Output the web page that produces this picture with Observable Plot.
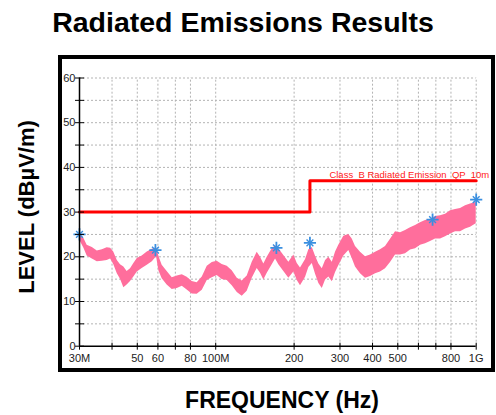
<!DOCTYPE html>
<html>
<head>
<meta charset="utf-8">
<script src="https://cdn.jsdelivr.net/npm/d3@7"></script>
<script src="https://cdn.jsdelivr.net/npm/@observablehq/plot@0.6"></script>
<style>
  html, body { margin: 0; padding: 0; background: #fff; }
  #wrap { position: relative; width: 496px; height: 415px; overflow: hidden; font-family: "Liberation Sans", Arial, sans-serif; }
  .t { position: absolute; font-weight: bold; color: #000; line-height: 1; white-space: nowrap; }
  #frame { position: absolute; left: 58px; top: 55px; width: 437px; height: 317px; border: 4px solid #000; box-sizing: border-box; pointer-events: none; z-index: 2; }
  #chart { position: absolute; left: 0; top: 0; z-index: 1; }
</style>
</head>
<body>
<div id="wrap">
  <div class="t" id="title" style="left:0;width:486px;text-align:center;top:8.3px;font-size:28.5px;">Radiated Emissions Results</div>
  <div id="chart"></div>
  <div id="frame"></div>
  <div class="t" id="xlab" style="left:132px;width:300px;text-align:center;top:389px;font-size:23px;">FREQUENCY (Hz)</div>
  <div class="t" id="ylab" style="left:-123px;width:300px;text-align:center;top:195.5px;height:22px;font-size:22px;transform:rotate(-90deg);transform-origin:150px 11px;">LEVEL (dBµV/m)</div>
</div>
<script>
// ---- data (frequency in MHz, level in dBµV/m) ----
const traceFreq = [30, 31.2, 32.1, 33.6, 35.1, 36.7, 38.3, 39.5, 40.6, 41.9, 43.1, 44.4, 45.7, 47.1, 48.5, 50.0, 52.2, 54.6, 57.1, 59.3,
  60.5, 62.3, 65.1, 68.1, 71.2, 74.4, 77.7, 81.2, 84.9, 88.8, 92.8, 97.0, 101.3, 105.9, 110.7, 115.7, 121.0, 126.4, 132.1, 138.1,
  144.3, 148.6, 153.0, 157.7, 164.8, 169.7, 174.7, 182.6, 190.9, 199.5, 205.6, 211.6, 221.3, 227.8, 234.8, 241.7, 248.9, 256.5, 264.1, 271.9,
  280.2, 288.5, 296.8, 310.3, 324.3, 334.2, 344.1, 359.6, 375.9, 392.9, 410.7, 429.2, 448.6, 468.9, 490.1, 512.3, 535.4, 559.6, 584.9, 611.3,
  638.9, 667.8, 698.0, 729.5, 762.5, 797.0, 833.0, 870.7, 910.0, 951.1, 1000];
const traceLo = [23.8, 21.9, 20.2, 19.5, 18.9, 19.0, 19.2, 19.5, 18.3, 16.2, 15.0, 13.1, 13.7, 14.5, 15.5, 16.6, 17.4, 18.1, 18.9, 20.0,
  16.9, 15.1, 13.7, 12.7, 12.9, 13.4, 12.6, 11.7, 11.6, 12.5, 14.7, 15.3, 15.8, 14.9, 14.7, 13.5, 12.0, 11.2, 12.3, 15.2,
  17.4, 16.3, 14.8, 16.3, 18.2, 19.5, 18.2, 16.7, 15.2, 16.6, 14.7, 13.5, 15.4, 17.6, 18.5, 16.1, 14.0, 12.9, 14.8, 15.5,
  14.4, 16.5, 18.0, 20.2, 21.4, 19.6, 17.7, 16.2, 15.2, 15.6, 16.2, 16.6, 17.3, 18.7, 20.4, 20.4, 20.7, 21.5, 21.8, 22.6,
  22.9, 23.4, 24.0, 24.0, 24.5, 25.1, 25.6, 25.6, 26.2, 26.6, 27.4];
const traceHi = [25.4, 24.1, 22.6, 22.1, 21.3, 21.6, 22.0, 21.9, 21.1, 19.2, 18.2, 17.7, 16.7, 17.3, 18.5, 19.6, 20.2, 21.1, 21.7, 22.0,
  20.1, 18.1, 16.7, 15.3, 15.7, 16.0, 15.4, 14.5, 14.2, 15.5, 17.9, 18.7, 19.0, 18.3, 17.9, 16.9, 15.2, 14.6, 15.7, 18.8,
  21.0, 19.9, 18.4, 19.9, 21.8, 22.5, 21.8, 20.3, 18.8, 20.4, 18.5, 17.5, 19.4, 21.6, 22.1, 20.1, 18.4, 17.3, 19.2, 19.9,
  18.8, 21.1, 22.6, 24.6, 25.0, 24.0, 22.3, 21.0, 20.0, 20.4, 21.0, 21.6, 22.3, 23.9, 25.6, 25.4, 25.9, 26.5, 27.0, 27.6,
  28.1, 28.4, 29.0, 29.2, 29.5, 30.3, 30.6, 30.8, 31.4, 31.8, 32.2];
const limitFreq = [30, 230, 230, 1000];
const limitLevel = [30, 30, 37, 37];
const limitName = "Class  B Radiated Emission  QP  10m";
const peakFreq = [30, 58.7, 171, 230, 680, 1000];
const peakLevel = [25, 21.5, 22, 23.1, 28.3, 32.8];
const xTicks = [30, 40, 50, 60, 70, 80, 100, 200, 300, 400, 500, 600, 700, 800, 1000];
const xLabeled = [30, 50, 60, 80, 100, 200, 300, 400, 500, 800, 1000];
const xTickLabels = ["30M", "50", "60", "80", "100M", "200", "300", "400", "500", "800", "1G"];
const yTicks = [0, 5, 10, 15, 20, 25, 30, 35, 40, 45, 50, 55, 60];
const yLabeled = [0, 10, 20, 30, 40, 50, 60];

const trace = traceFreq.map((f, i) => ({f, lo: traceLo[i], hi: traceHi[i]}));
const limit = limitFreq.map((f, i) => ({f, v: limitLevel[i]}));
const peaks = peakFreq.map((f, i) => ({f, v: peakLevel[i]}));
const xLabelRows = xLabeled.map((f, i) => ({f, label: xTickLabels[i]}));

const grid = {stroke: "#b3b3b3", strokeDasharray: "2,2", strokeWidth: 1, strokeOpacity: 1};

const chart = Plot.plot({
  width: 496,
  height: 415,
  marginLeft: 79,
  marginRight: 20.3,
  marginTop: 77.5,
  marginBottom: 69.3,
  style: {background: "transparent", fontFamily: "'Liberation Sans', Arial, sans-serif", fontSize: "11px", overflow: "visible"},
  x: {type: "log", domain: [30, 1000], label: null},
  y: {domain: [0, 60], label: null},
  marks: [
    Plot.ruleY(yTicks.filter(d => d > 0), grid),
    Plot.ruleX(xTicks.filter(d => d > 30), {...grid, y1: 0, y2: 60}),
    Plot.areaY(trace, {x: "f", y1: "lo", y2: "hi", fill: "#ff6e9c", curve: "linear"}),
    Plot.line(limit, {x: "f", y: "v", stroke: "#ff0000", strokeWidth: 3}),
    Plot.text([limitName], {x: 1000, y: 37, text: d => d, textAnchor: "end", dx: 13, dy: -6, fill: "#ff1a1a", fontSize: 9.5}),
    Plot.dot(peaks, {x: "f", y: "v", symbol: "plus", r: 4, stroke: "#3a8fe0", strokeWidth: 1.8}),
    Plot.dot(peaks, {x: "f", y: "v", symbol: "times", r: 3.2, stroke: "#3a8fe0", strokeWidth: 1.4}),
    Plot.ruleX([30], {y1: 0, y2: 60, stroke: "#000", strokeWidth: 1.5}),
    Plot.ruleY([0], {stroke: "#000", strokeWidth: 1.5}),
    Plot.axisY(yTicks, {tickSize: 9, dx: 5, tickFormat: () => "", label: null, stroke: "#000"}),
    Plot.axisY(yLabeled, {tickSize: 0, tickPadding: 4, label: null, fill: "#222", fontSize: 11}),
    Plot.axisX(xTicks, {tickSize: 7, dy: -3, tickFormat: () => "", label: null, stroke: "#000"}),
    Plot.text(xLabelRows, {x: "f", text: "label", frameAnchor: "bottom", dy: 16, fill: "#222", fontSize: 11})
  ]
});
document.getElementById("chart").appendChild(chart);
</script>
</body>
</html>
